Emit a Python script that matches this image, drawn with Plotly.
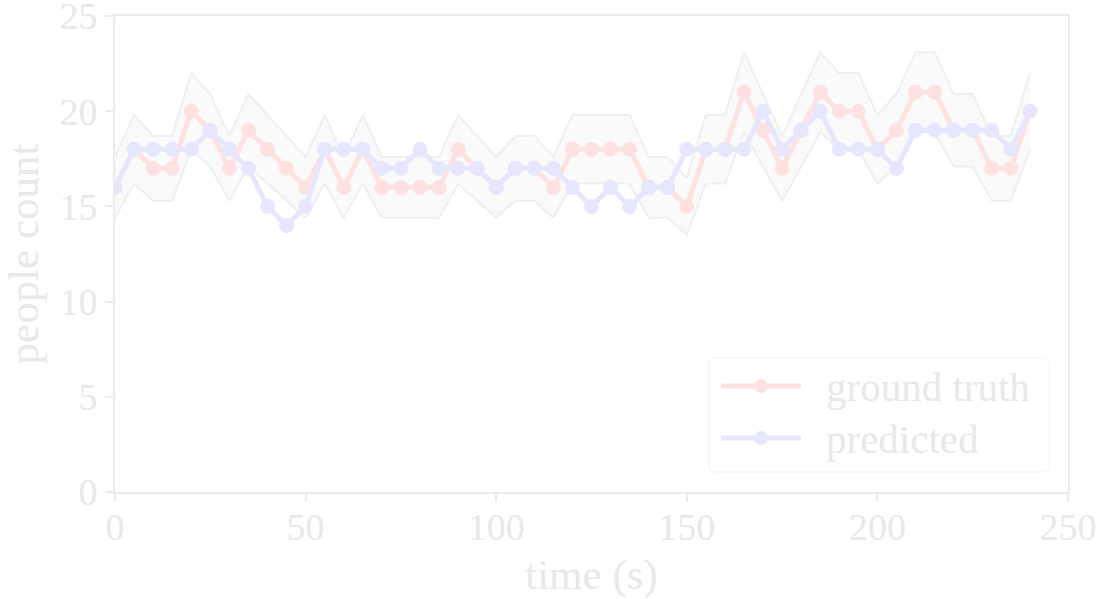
import plotly.graph_objects as go

time_s = list(range(0, 245, 5))
ground_truth = [16, 18, 17, 17, 20, 19, 17, 19, 18, 17,
                16, 18, 16, 18, 16, 16, 16, 16, 18, 17,
                16, 17, 17, 16, 18, 18, 18, 18, 16, 16,
                15, 18, 18, 21, 19, 17, 19, 21, 20, 20,
                18, 19, 21, 21, 19, 19, 17, 17, 20]
predicted = [16, 18, 18, 18, 18, 19, 18, 17, 15, 14,
             15, 18, 18, 18, 17, 17, 18, 17, 17, 17,
             16, 17, 17, 17, 16, 15, 16, 15, 16, 16,
             18, 18, 18, 18, 20, 18, 19, 20, 18, 18,
             18, 17, 19, 19, 19, 19, 19, 18, 20]
band_frac = 0.10
lower = [v * (1 - band_frac) for v in ground_truth]
upper = [v * (1 + band_frac) for v in ground_truth]

series_names = ["ground truth", "predicted"]
x_ticks = [0, 50, 100, 150, 200, 250]
y_ticks = [0, 5, 10, 15, 20, 25]
RED = "#ffe1e1"
BLUE = "#e6e6ff"
TXT = "#e8e8e8"
AX = "#ebebeb"
FONT = "Liberation Serif"

fig = go.Figure()
fig.add_trace(go.Scatter(x=time_s, y=lower, mode="lines",
                         line=dict(color="#efefef", width=2),
                         showlegend=False, hoverinfo="skip"))
fig.add_trace(go.Scatter(x=time_s, y=upper, mode="lines", fill="tonexty",
                         fillcolor="#fafafa",
                         line=dict(color="#efefef", width=2),
                         showlegend=False, hoverinfo="skip"))
fig.add_trace(go.Scatter(x=time_s, y=ground_truth, mode="lines+markers",
                         name=series_names[0],
                         line=dict(color=RED, width=5),
                         marker=dict(color=RED, size=15), showlegend=False))
fig.add_trace(go.Scatter(x=time_s, y=predicted, mode="lines+markers",
                         name=series_names[1],
                         line=dict(color=BLUE, width=5),
                         marker=dict(color=BLUE, size=15), showlegend=False))

# custom legend (drawn in pixel-like paper coordinates)
W, H = 1099, 599
L, R, T, B = 115, 31, 16, 107
pw, ph = W - L - R, H - T - B

def px(x):
    return (x - L) / pw

def py(y):
    return (H - B - y) / ph

shapes = []
x0, x1, y0, y1 = px(709), px(1049), py(358), py(472)
r = 6
rx, ry = r / pw, r / ph
path = (f"M {x0+rx},{y0} L {x1-rx},{y0} Q {x1},{y0} {x1},{y0-ry} "
        f"L {x1},{y1+ry} Q {x1},{y1} {x1-rx},{y1} L {x0+rx},{y1} "
        f"Q {x0},{y1} {x0},{y1+ry} L {x0},{y0-ry} Q {x0},{y0} {x0+rx},{y0} Z")
shapes.append(dict(type="path", xref="paper", yref="paper", path=path,
                   fillcolor="rgba(255,255,255,0.8)", line=dict(color="#f6f6f6", width=1.5)))
annotations = []
for name, col, yc in [(series_names[0], RED, 386), (series_names[1], BLUE, 438)]:
    shapes.append(dict(type="line", xref="paper", yref="paper",
                       x0=px(721), x1=px(801), y0=py(yc), y1=py(yc),
                       line=dict(color=col, width=5)))
    shapes.append(dict(type="circle", xref="paper", yref="paper",
                       x0=px(754), x1=px(768), y0=py(yc + 7), y1=py(yc - 7),
                       fillcolor=col, line=dict(color=col, width=0)))
    annotations.append(dict(xref="paper", yref="paper", x=px(824), y=py(yc + 1),
                            xanchor="left", yanchor="middle", text=name,
                            showarrow=False, font=dict(family=FONT, size=41, color=TXT)))

axis_common = dict(showline=True, linecolor=AX, linewidth=2, mirror=True,
                   ticks="outside", ticklen=8, tickwidth=1.5, tickcolor=AX,
                   showgrid=False, zeroline=False, automargin=False,
                   ticklabeloverflow="allow",
                   tickfont=dict(family=FONT, size=38, color=TXT))

fig.update_layout(
    width=W, height=H,
    margin=dict(l=L, r=R, t=T, b=B),
    paper_bgcolor="white", plot_bgcolor="white",
    xaxis=dict(range=[0, 250], tickvals=x_ticks,
               ticklabelstandoff=-8,
               title=dict(text="time (s)", font=dict(family=FONT, size=43, color=TXT)),
               **axis_common),
    yaxis=dict(range=[0, 25], tickvals=y_ticks,
               ticklabelstandoff=0,
               title=dict(text="people count", font=dict(family=FONT, size=43, color=TXT)),
               **axis_common),
    shapes=shapes, annotations=annotations,
    showlegend=False,
)
fig.write_html("out.html", config={"displayModeBar": False},
               post_script="document.body.style.margin='0';document.body.style.overflow='hidden';")
